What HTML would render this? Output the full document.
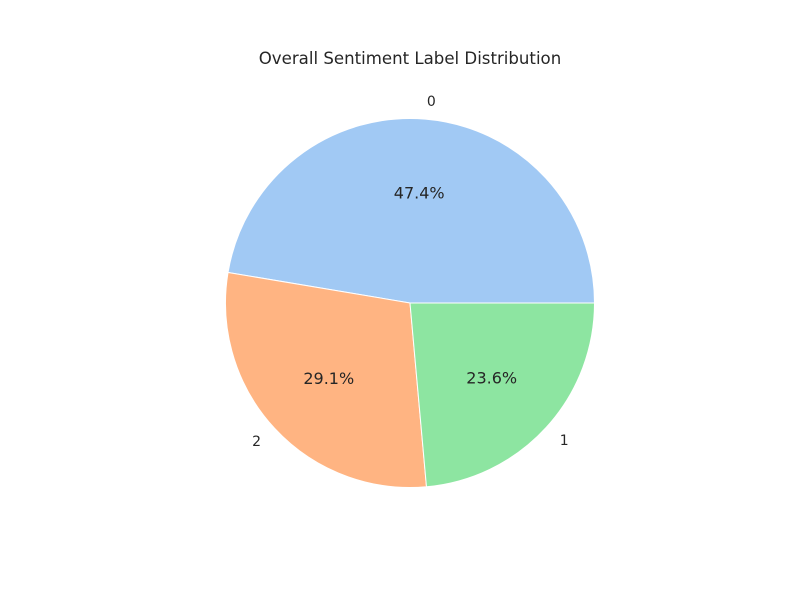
<!DOCTYPE html>
<html>
<head>
<meta charset="utf-8">
<style>
  html,body{margin:0;padding:0;background:#fff;}
  svg text{font-family:"DejaVu Sans","Liberation Sans",sans-serif;fill:#262626;}
</style>
</head>
<body>
<svg id="chart" width="800" height="600" viewBox="0 0 800 600" xmlns="http://www.w3.org/2000/svg">
  <rect width="800" height="600" fill="#ffffff"/>
  <text x="410" y="64" font-size="16.6" text-anchor="middle">Overall Sentiment Label Distribution</text>
  <g id="slices"></g>
</svg>
<script>
const categories = ["0", "2", "1"];
const values = [47.4, 29.1, 23.6];
const colors = ["#a1c9f4", "#ffb482", "#8de5a1"];

const cx = 410, cy = 303, r = 184.5;
const svgNS = "http://www.w3.org/2000/svg";
const g = document.getElementById("slices");
const total = values.reduce((a, b) => a + b, 0);
function pt(angDeg, rad) {
  const a = angDeg * Math.PI / 180;
  return [cx + rad * Math.cos(a), cy - rad * Math.sin(a)];
}
let start = 0;
values.forEach((v, i) => {
  const sweep = v / total * 360;
  const end = start + sweep;
  const [x1, y1] = pt(start, r);
  const [x2, y2] = pt(end, r);
  const large = sweep > 180 ? 1 : 0;
  const path = document.createElementNS(svgNS, "path");
  path.setAttribute("d", `M${cx},${cy} L${x1},${y1} A${r},${r} 0 ${large} 0 ${x2},${y2} Z`);
  path.setAttribute("fill", colors[i]);
  path.setAttribute("stroke", "#ffffff");
  path.setAttribute("stroke-width", "1");
  
  
  g.appendChild(path);

  const mid = start + sweep / 2;
  const [lx, ly] = pt(mid, r * 1.1);
  const lab = document.createElementNS(svgNS, "text");
  lab.setAttribute("x", lx);
  lab.setAttribute("y", ly + 5);
  lab.setAttribute("font-size", "14");
  const c = Math.cos(mid * Math.PI / 180);
  lab.setAttribute("text-anchor", Math.abs(c) < 0.05 ? "middle" : (c > 0 ? "start" : "end"));
  lab.textContent = categories[i];
  
  
  g.appendChild(lab);

  const [px, py] = pt(mid, r * 0.6);
  const pct = document.createElementNS(svgNS, "text");
  pct.setAttribute("x", px);
  pct.setAttribute("y", py + 6);
  pct.setAttribute("font-size", "16");
  pct.setAttribute("text-anchor", "middle");
  pct.textContent = (v / total * 100).toFixed(1) + "%";
  
  
  g.appendChild(pct);

  start = end;
});
</script>
</body>
</html>
